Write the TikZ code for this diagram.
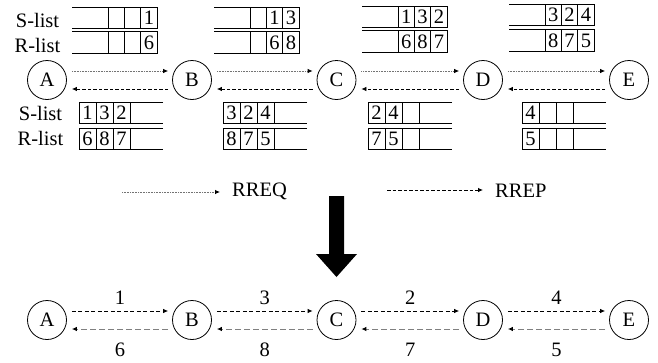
\documentclass[tikz,border=0pt]{standalone}
\usepackage{fontspec}
\setmainfont{Liberation Serif}
\usetikzlibrary{arrows.meta}
\tikzset{
 nd/.style={circle,draw,line width=0.8pt,minimum size=39pt,inner sep=0pt,font=\fontsize{20.5}{24}\selectfont},
 txt/.style={inner sep=0pt,text=black,font=\fontsize{20.5}{24}\selectfont},
 cellnum/.style={inner sep=0pt,font=\fontsize{20.5}{24}\selectfont},
 tab/.style={line width=0.7pt},
 req/.style={gray!90!black,line width=0.8pt,dash pattern=on 0.8pt off 0.8pt,-{Latex[length=5pt,width=4.5pt,black]}},
 rep/.style={black,line width=0.8pt,dash pattern=on 3.5pt off 2pt,-{Latex[length=5pt,width=4.5pt]}},
 fwd/.style={black,line width=0.8pt,dash pattern=on 4pt off 2.5pt,-{Latex[length=5pt,width=4.5pt]}},
 bwd/.style={gray,line width=0.9pt,dash pattern=on 6pt off 3pt,-{Latex[length=5pt,width=4.5pt,black]}},
}
\newcommand{\ttab}[6]{%
 \draw[tab] (#2,#3) -- (#2+85,#3) -- (#2+85,#3+21.5) -- (#2,#3+21.5);
 \draw[tab] (#2+36,#3) -- (#2+36,#3+21.5) (#2+52.5,#3) -- (#2+52.5,#3+21.5) (#2+68.75,#3) -- (#2+68.75,#3+21.5);
 \node[cellnum] (#1a) at (#2+44.25,#3+11) {#4};
 \node[cellnum] (#1b) at (#2+60.6,#3+11) {#5};
 \node[cellnum] (#1c) at (#2+76.9,#3+11) {#6};
}
\newcommand{\btab}[6]{%
 \draw[tab] (#2+84,#3) -- (#2,#3) -- (#2,#3+21) -- (#2+84,#3+21);
 \draw[tab] (#2+17,#3) -- ++(0,21) (#2+34,#3) -- ++(0,21) (#2+51,#3) -- ++(0,21);
 \node[cellnum] (#1a) at (#2+8.5,#3+10.5) {#4};
 \node[cellnum] (#1b) at (#2+25.5,#3+10.5) {#5};
 \node[cellnum] (#1c) at (#2+42.5,#3+10.5) {#6};
}
\begin{document}
\begin{tikzpicture}[x=1pt,y=-1pt]
\useasboundingbox (0,0) rectangle (658,362);
% labels
\node[txt,anchor=base] (sl1) at (37.5,27) {S-list};
\node[txt,anchor=base] (rl1) at (37.5,52) {R-list};
\node[txt,anchor=base] (sl2) at (40.5,120) {S-list};
\node[txt,anchor=base] (rl2) at (40.5,145) {R-list};
% top tables
\ttab{tAs}{72}{7}{}{}{1}
\ttab{tAr}{72}{31.5}{}{}{6}
\ttab{tBs}{214}{7}{}{1}{3}
\ttab{tBr}{214}{31.5}{}{6}{8}
\ttab{tCs}{362}{6}{1}{3}{2}
\ttab{tCr}{362}{30.5}{6}{8}{7}
\ttab{tDs}{509}{4}{3}{2}{4}
\ttab{tDr}{509}{29.5}{8}{7}{5}
% bottom tables
\btab{bAs}{79}{102.5}{1}{3}{2}
\btab{bAr}{79}{128.5}{6}{8}{7}
\btab{bBs}{223}{102.5}{3}{2}{4}
\btab{bBr}{223}{128.5}{8}{7}{5}
\btab{bCs}{368}{102.5}{2}{4}{}
\btab{bCr}{368}{128.5}{7}{5}{}
\btab{bDs}{522}{102.5}{4}{}{}
\btab{bDr}{522}{128.5}{5}{}{}
% top nodes
\node[nd] (A) at (47,80) {A};
\node[nd] (B) at (192,80) {B};
\node[nd] (C) at (336.5,80) {C};
\node[nd] (D) at (483,80) {D};
\node[nd] (E) at (629,80) {E};
\foreach \u/\v in {A/B,B/C,C/D,D/E}{
 \draw[req] ([xshift=5pt,yshift=9pt]\u.east) -- ([xshift=-4pt,yshift=9pt]\v.west);
 \draw[rep] ([xshift=-4pt,yshift=-9pt]\v.west) -- ([xshift=5pt,yshift=-9pt]\u.east);
}
% legend
\coordinate (q1) at (122,192);
\coordinate (q2) at (220,192);
\draw[req] (q1) -- (q2);
\node[txt,anchor=base west] (rreq) at (232,196.5) {RREQ};
\coordinate (p1) at (387,190);
\coordinate (p2) at (483,190);
\draw[rep] (p1) -- (p2);
\node[txt,anchor=base west] (rrep) at (495,197.5) {RREP};
% big arrow
\fill (329,196) -- (344,196) -- (344,254) -- (357,254) -- (336.5,277) -- (316,254) -- (329,254) -- cycle;
% bottom nodes
\node[nd] (A2) at (47,320) {A};
\node[nd] (B2) at (192,320) {B};
\node[nd] (C2) at (336.5,320) {C};
\node[nd] (D2) at (483,320) {D};
\node[nd] (E2) at (629,320) {E};
\foreach \u/\v/\f/\b in {A2/B2/1/6,B2/C2/3/8,C2/D2/2/7,D2/E2/4/5}{
 \draw[fwd] ([xshift=5pt,yshift=9pt]\u.east) -- ([xshift=-4pt,yshift=9pt]\v.west)
   node[txt,midway,yshift=13.5pt] (f\u) {\f};
 \draw[bwd] ([xshift=-4pt,yshift=-9pt]\v.west) -- ([xshift=5pt,yshift=-9pt]\u.east)
   node[txt,midway,yshift=-21pt] (b\u) {\b};
}
\end{tikzpicture}
\end{document}
